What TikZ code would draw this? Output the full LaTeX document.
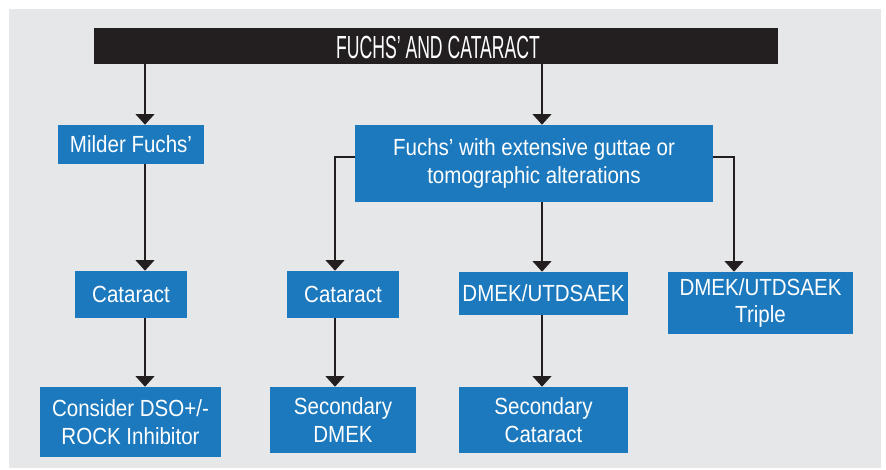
\documentclass[tikz,border=0pt]{standalone}
\usepackage{fontspec}
\setmainfont{Liberation Sans}[FakeStretch=0.88]
\newfontfamily\titlefont{Liberation Sans}[FakeStretch=0.55]
\usetikzlibrary{arrows.meta}
\definecolor{bgray}{HTML}{E6E7E8}
\definecolor{boxblue}{HTML}{1C79BE}
\definecolor{ink}{HTML}{231F20}
\begin{document}
\begin{tikzpicture}[x=0.75pt,y=-0.75pt,
  bluebox/.style={fill=boxblue,text=white,inner sep=0pt,align=center,
    font=\fontsize{17.5pt}{20.5pt}\selectfont},
  conn/.style={draw=ink,line width=1.6pt,-{Triangle[width=14pt,length=8pt]}}]
\useasboundingbox (0,0) rectangle (886,469);
\fill[bgray] (9,9) rectangle (881,468);
% title
\fill[ink] (94,28) rectangle (778,64);
\node[text=white,font=\titlefont\fontsize{24pt}{26pt}\selectfont] (title) at (438,47) {FUCHS’ AND CATARACT};
\coordinate (tl) at (145,64);
\coordinate (tr) at (542,64);
% boxes
\node[bluebox,minimum width=146*0.75pt,minimum height=39*0.75pt] (mild) at (131,144.5) {Milder Fuchs’};
\node[bluebox,minimum width=358*0.75pt,minimum height=77*0.75pt] (fuchs) at (534,163.5) {Fuchs’ with extensive guttae or\\tomographic alterations};
\node[bluebox,minimum width=112*0.75pt,minimum height=47*0.75pt] (cat1) at (131,294.5) {Cataract};
\node[bluebox,minimum width=181*0.75pt,minimum height=70*0.75pt] (dso) at (130.5,422) {Consider DSO+/-\\ROCK Inhibitor};
\node[bluebox,minimum width=112*0.75pt,minimum height=47*0.75pt] (cat2) at (343,294.5) {Cataract};
\node[bluebox,minimum width=146*0.75pt,minimum height=66*0.75pt] (sdmek) at (343,420) {Secondary\\DMEK};
\node[bluebox,minimum width=169*0.75pt,minimum height=43*0.75pt] (dmek) at (543.5,293.5) {DMEK/UTDSAEK};
\node[bluebox,minimum width=169*0.75pt,minimum height=66*0.75pt] (scat) at (543.5,420) {Secondary\\Cataract};
\node[bluebox,minimum width=185*0.75pt,minimum height=62*0.75pt] (triple) at (760.5,303) {DMEK/UTDSAEK\\Triple};
% connectors
\draw[conn] (tl) -- (tl |- mild.north);
\draw[conn] (tr) -- (tr |- fuchs.north);
\draw[conn] (mild.south -| 145,0) -- (cat1.north -| 145,0);
\draw[conn] (cat1.south -| 145,0) -- (dso.north -| 145,0);
\draw[conn] (fuchs.west |- 0,157) -| (335,0 |- cat2.north);
\draw[conn] (fuchs.east |- 0,157) -| (734,0 |- triple.north);
\draw[conn] (fuchs.south -| 542,0) -- (dmek.north -| 542,0);
\draw[conn] (cat2.south -| 335,0) -- (sdmek.north -| 335,0);
\draw[conn] (dmek.south -| 542,0) -- (scat.north -| 542,0);
\end{tikzpicture}
\end{document}
